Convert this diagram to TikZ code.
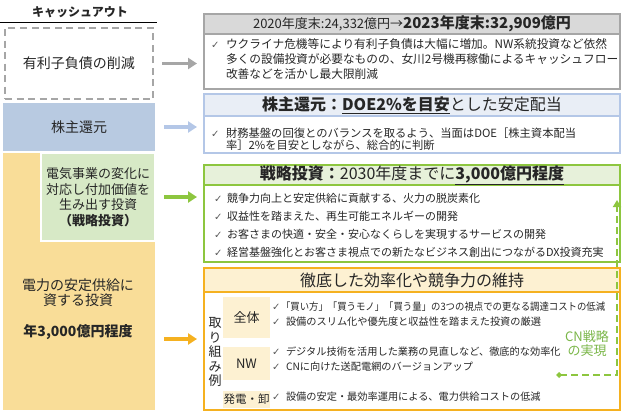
\documentclass[tikz,border=0pt]{standalone}
\usepackage{fontspec}
\usepackage{graphicx}
\setmainfont{Noto Sans CJK JP}
\newfontfamily\symfont{DejaVu Sans}
\usetikzlibrary{arrows.meta,positioning}

\definecolor{txt}{HTML}{262626}
\definecolor{chk}{HTML}{595959}
\definecolor{grayline}{HTML}{A6A6A6}
\definecolor{grayfill}{HTML}{D9D9D9}
\definecolor{blueline}{HTML}{B4C7E7}
\definecolor{bluefill}{HTML}{B8CAE1}
\definecolor{bluehead}{HTML}{E9EEF6}
\definecolor{greenline}{HTML}{8DC63F}
\definecolor{greenfill}{HTML}{D7E9C6}
\definecolor{greenhead}{HTML}{E7F1DA}
\definecolor{orangeline}{HTML}{F5B120}
\definecolor{yellowfill}{HTML}{F9DD98}
\definecolor{yellowhead}{HTML}{FDF1D2}
\definecolor{cngreen}{HTML}{7AB648}

\newcommand{\fsz}[2]{\fontsize{#1}{#2}\selectfont}
\newcommand{\ck}[1][15pt]{\makebox[#1][l]{\color{chk}\symfont\fsz{10}{10}✓}}

\begin{document}
\begin{tikzpicture}[x=1pt,y=-1pt,
  every node/.style={inner sep=0pt,outer sep=0pt,text=txt},
  frame/.style={draw,line width=1.5pt,minimum width=416pt,anchor=north west},
  head/.style={draw,line width=1.5pt,minimum width=416pt,anchor=north west},
  bline/.style={anchor=west,font=\fsz{11.7}{15}},
  arr/.style={line width=3.5pt,-{Triangle[length=9pt,width=11pt]},shorten <=9pt,shorten >=7pt},
  tag/.style={fill=yellowhead,minimum width=47pt,font=\fsz{13}{13}}]
\useasboundingbox (0,0) rectangle (624,415);

% left: cash out
\node[font=\fsz{12}{12}\bfseries] (title) at (80,12) {キャッシュアウト};
\draw[line width=1pt] (0,22) -- (157,22);

\node[draw=grayline,line width=1.8pt,dash pattern=on 7pt off 4.5pt,
  minimum width=148pt,minimum height=71pt,font=\fsz{14}{14}] (debt) at (79,63.5) {有利子負債の削減};
\node[fill=bluefill,minimum width=152pt,minimum height=48pt,font=\fsz{14}{14}] (payout) at (79,127) {株主還元};
\node[fill=yellowfill,minimum width=152pt,minimum height=257pt,anchor=north west] (invest) at (3,153) {};
\node[fill=greenfill,draw=white,line width=2pt,minimum width=114pt,minimum height=88pt,
  align=center,font=\fsz{13}{15.5}] (strat) at (98,197)
  {電気事業の変化に\\対応し付加価値を\\生み出す投資\\\bfseries （戦略投資）};
\node[align=center,font=\fsz{14}{15.5}] (investtxt) at (78,292.5) {電力の安定供給に\\資する投資};
\node[font=\fsz{14}{14}\bfseries] (amount) at (78,332) {年3,000億円程度};

% right: box 1
\node[frame,draw=grayline,minimum height=75pt] (box1) at (204,14) {};
\node[head,draw=grayline,fill=grayfill,minimum height=20pt] (head1) at (204,14)
  {\fsz{13}{13}2020年度末:24,332億円→\fsz{15}{15}\bfseries 2023年度末:32,909億円};
\node[bline] (d1) at (211,44) {\ck ウクライナ危機等により有利子負債は大幅に増加。NW系統投資など依然};
\node[bline] (d2) at (226,59) {多くの設備投資が必要なものの、女川2号機再稼働によるキャッシュフロー};
\node[bline] (d3) at (226,74) {改善などを活かし最大限削減};

% box 2
\node[frame,draw=blueline,minimum height=59pt] (box2) at (204,94) {};
\node[head,draw=blueline,fill=bluehead,minimum height=22pt] (head2) at (204,94)
  {\fsz{16}{16}\bfseries 株主還元：\underline{DOE2\%を目安}\mdseries とした安定配当};
\node[bline,font=\fsz{11.3}{13}] (p1) at (211,133) {\ck 財務基盤の回復とのバランスを取るよう、当面はDOE［株主資本配当};
\node[bline,font=\fsz{11.3}{13}] (p2) at (226,145) {率］2\%を目安としながら、総合的に判断};

% box 3
\node[frame,draw=greenline,line width=2pt,minimum height=97pt] (box3) at (204,165) {};
\node[head,draw=greenline,line width=2pt,fill=greenhead,minimum height=20pt] (head3) at (204,165)
  {\fsz{16}{16}\bfseries 戦略投資：\mdseries 2030年度までに\bfseries\underline{3,000億円程度}};
\node[bline,font=\fsz{11}{13}] (s1) at (214,198) {\ck[13pt]競争力向上と安定供給に貢献する、火力の脱炭素化};
\node[bline,font=\fsz{11}{13}] (s2) at (214,216) {\ck[13pt]収益性を踏まえた、再生可能エネルギーの開発};
\node[bline,font=\fsz{11}{13}] (s3) at (214,234) {\ck[13pt]お客さまの快適・安全・安心なくらしを実現するサービスの開発};
\node[bline,font=\fsz{11}{13}] (s4) at (214,252) {\ck[13pt]経営基盤強化とお客さま視点での新たなビジネス創出につながるDX投資充実};

% box 4
\node[frame,draw=orangeline,line width=2pt,minimum height=142pt] (box4) at (204,268) {};
\node[head,draw=orangeline,line width=2pt,fill=yellowhead,minimum height=24pt] (head4) at (204,268)
  {\fsz{16}{16}徹底した効率化や競争力の維持};
\node[align=center,font=\fsz{13}{14.5}] (torikumi) at (215,352) {取\\り\\組\\み\\例};
\node[tag,minimum height=41pt] (all) at (246.5,317.5) {全体};
\node[tag,minimum height=33pt] (nw) at (246.5,363.5) {NW};
\node[tag,minimum height=17pt,font=\fsz{11.5}{11.5}] (gen) at (246.5,399) {発電・卸};
\node[bline,font=\fsz{10.2}{12}] (e1) at (272,307) {\ck[9pt]\scalebox{0.92}[1]{「買い方」「買うモノ」「買う量」の3つの視点での更なる調達コストの低減}};
\node[bline,font=\fsz{10.2}{12}] (e2) at (272,322) {\ck[14pt]設備のスリム化や優先度と収益性を踏まえた投資の厳選};
\node[bline,font=\fsz{10.2}{12}] (e3) at (272,352) {\ck[14pt]デジタル技術を活用した業務の見直しなど、徹底的な効率化};
\node[bline,font=\fsz{10.2}{12}] (e4) at (272,367) {\ck[14pt]CNに向けた送配電網のバージョンアップ};
\node[bline,font=\fsz{10.2}{12}] (e5) at (272,397) {\ck[14pt]設備の安定・最効率運用による、電力供給コストの低減};
\node[align=center,text=cngreen,font=\fsz{13}{14}] (cn) at (587,344) {CN戦略\\の実現};

% arrows
\draw[arr,grayline] (debt) -- (debt -| box1.west);
\draw[arr,blueline] (payout) -- (payout -| box2.west);
\draw[arr,greenline] (strat) -- (strat -| box3.west);
\draw[arr,orangeline] (invest.east |- box4.west) -- (box4.west);

\coordinate (cnfrom) at (556,375);
\coordinate (cnto) at (617,200);
\draw[greenline,line width=2.5pt,dash pattern=on 7pt off 4pt,
  {Diamond[length=6pt,width=6pt]}-{Triangle[length=7pt,width=8pt]}] (cnfrom) -- (cnfrom -| cnto) -- (cnto);
\end{tikzpicture}
\end{document}
